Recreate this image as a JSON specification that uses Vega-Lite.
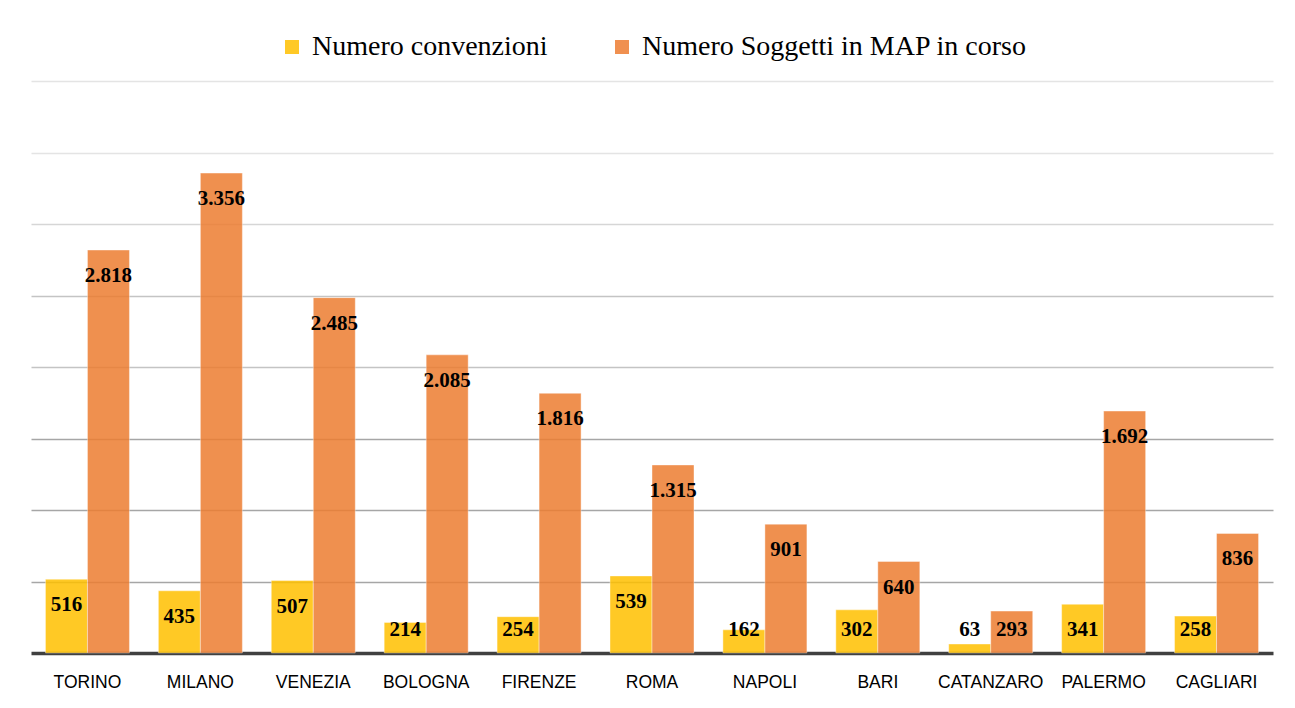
{
  "$schema": "https://vega.github.io/schema/vega-lite/v6.json",
  "width": 1242,
  "height": 572,
  "padding": {"left": 31, "top": 33, "right": 22, "bottom": 5},
  "autosize": {"type": "pad"},
  "config": {
    "locale": {"number": {"decimal": ",", "thousands": ".", "grouping": [3], "currency": ["€", ""]}},
    "view": {"stroke": null},
    "legend": {"layout": {"top": {"anchor": "middle"}}}
  },
  "data": {
    "values": [
      {"city": "TORINO", "series": "Numero convenzioni", "value": 516},
      {"city": "TORINO", "series": "Numero Soggetti in MAP in corso", "value": 2818},
      {"city": "MILANO", "series": "Numero convenzioni", "value": 435},
      {"city": "MILANO", "series": "Numero Soggetti in MAP in corso", "value": 3356},
      {"city": "VENEZIA", "series": "Numero convenzioni", "value": 507},
      {"city": "VENEZIA", "series": "Numero Soggetti in MAP in corso", "value": 2485},
      {"city": "BOLOGNA", "series": "Numero convenzioni", "value": 214},
      {"city": "BOLOGNA", "series": "Numero Soggetti in MAP in corso", "value": 2085},
      {"city": "FIRENZE", "series": "Numero convenzioni", "value": 254},
      {"city": "FIRENZE", "series": "Numero Soggetti in MAP in corso", "value": 1816},
      {"city": "ROMA", "series": "Numero convenzioni", "value": 539},
      {"city": "ROMA", "series": "Numero Soggetti in MAP in corso", "value": 1315},
      {"city": "NAPOLI", "series": "Numero convenzioni", "value": 162},
      {"city": "NAPOLI", "series": "Numero Soggetti in MAP in corso", "value": 901},
      {"city": "BARI", "series": "Numero convenzioni", "value": 302},
      {"city": "BARI", "series": "Numero Soggetti in MAP in corso", "value": 640},
      {"city": "CATANZARO", "series": "Numero convenzioni", "value": 63},
      {"city": "CATANZARO", "series": "Numero Soggetti in MAP in corso", "value": 293},
      {"city": "PALERMO", "series": "Numero convenzioni", "value": 341},
      {"city": "PALERMO", "series": "Numero Soggetti in MAP in corso", "value": 1692},
      {"city": "CAGLIARI", "series": "Numero convenzioni", "value": 258},
      {"city": "CAGLIARI", "series": "Numero Soggetti in MAP in corso", "value": 836}
    ]
  },
  "transform": [{"calculate": "max(datum.value - 182, 161)", "as": "labelPos"}],
  "encoding": {
    "x": {
      "field": "city",
      "type": "nominal",
      "sort": null,
      "scale": {"paddingInner": 0.256, "paddingOuter": 0.128},
      "axis": {
        "title": null,
        "labelAngle": 0,
        "ticks": false,
        "domainColor": "#404040",
        "domainWidth": 3.5,
        "labelFont": "Liberation Sans",
        "labelFontSize": 17.5,
        "labelColor": "#000000",
        "labelPadding": 20
      }
    },
    "xOffset": {
      "field": "series",
      "type": "nominal",
      "sort": ["Numero convenzioni", "Numero Soggetti in MAP in corso"],
      "scale": {"paddingInner": 0, "paddingOuter": 0}
    }
  },
  "layer": [
    {
      "mark": {"type": "bar", "opacity": 0.85, "stroke": "#ffffff", "strokeWidth": 1, "strokeOpacity": 0.4},
      "encoding": {
        "y": {
          "field": "value",
          "type": "quantitative",
          "scale": {"domain": [0, 4000], "nice": false},
          "axis": {
            "title": null,
            "labels": false,
            "ticks": false,
            "domain": false,
            "values": [500, 1000, 1500, 2000, 2500, 3000, 3500, 4000],
            "gridWidth": 1.5,
            "gridColor": {
              "condition": [
                {"test": "datum.value >= 3500", "value": "#e4e4e4"},
                {"test": "datum.value >= 3000", "value": "#d6d6d6"},
                {"test": "datum.value >= 2000", "value": "#c4c4c4"}
              ],
              "value": "#a6a6a6"
            }
          }
        },
        "color": {
          "field": "series",
          "type": "nominal",
          "sort": ["Numero convenzioni", "Numero Soggetti in MAP in corso"],
          "scale": {"range": ["#FFC000", "#ED7D31"]},
          "legend": {
            "orient": "top",
            "title": null,
            "direction": "horizontal",
            "labelFont": "Liberation Serif",
            "labelFontSize": 28,
            "labelColor": "#000000",
            "labelLimit": 600,
            "symbolType": "square",
            "symbolSize": 196,
            "symbolStrokeWidth": 0,
            "symbolOpacity": 0.85,
            "columnPadding": 60,
            "labelOffset": 6,
            "offset": 20
          }
        }
      }
    },
    {
      "mark": {"type": "text", "font": "Liberation Serif", "fontWeight": "bold", "fontSize": 21, "baseline": "middle", "align": "center", "color": "#000000"},
      "encoding": {
        "y": {"field": "labelPos", "type": "quantitative"},
        "text": {"field": "value", "type": "quantitative", "format": ",d"}
      }
    }
  ]
}
